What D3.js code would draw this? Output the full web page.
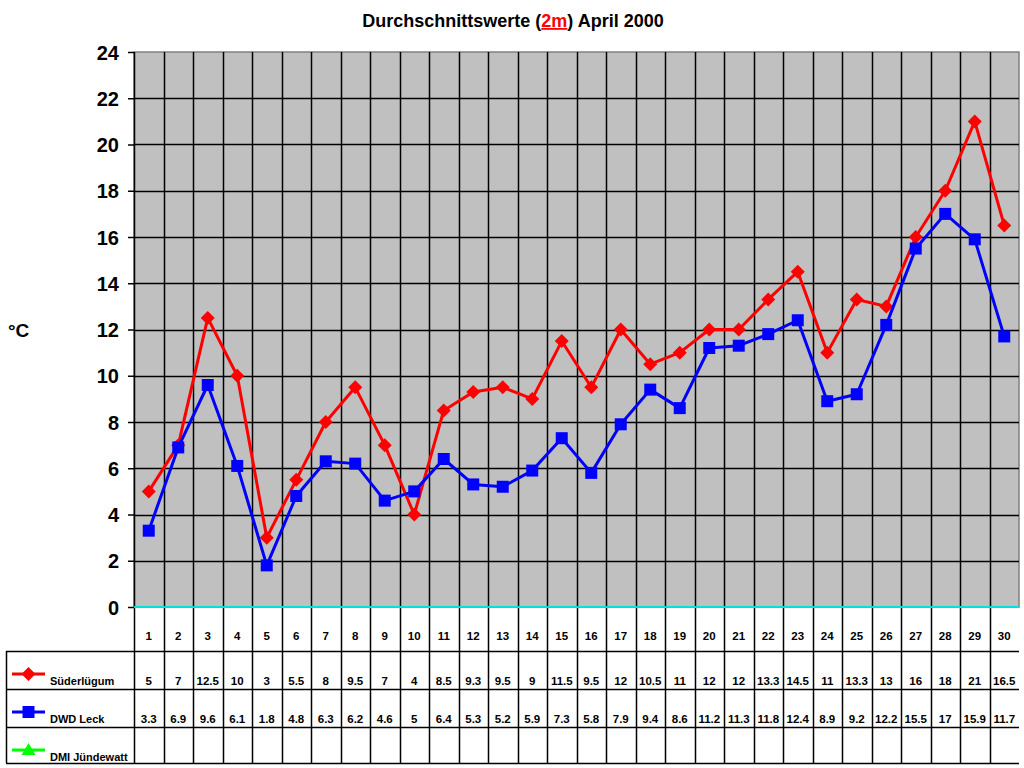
<!DOCTYPE html>
<html>
<head>
<meta charset="utf-8">
<script src="https://cdn.jsdelivr.net/npm/d3@7"></script>
<style>
  body { margin: 0; background: #fff; }
  text { font-family: "Liberation Sans", Arial, sans-serif; font-weight: bold; }
</style>
</head>
<body>
<svg id="chart" width="1024" height="768"></svg>
<script>
// Data
const days = d3.range(1, 31).map(String);
const suederluegum = [5, 7, 12.5, 10, 3, 5.5, 8, 9.5, 7, 4, 8.5, 9.3, 9.5, 9, 11.5, 9.5, 12, 10.5, 11, 12, 12, 13.3, 14.5, 11, 13.3, 13, 16, 18, 21, 16.5];
const dwdLeck = [3.3, 6.9, 9.6, 6.1, 1.8, 4.8, 6.3, 6.2, 4.6, 5, 6.4, 5.3, 5.2, 5.9, 7.3, 5.8, 7.9, 9.4, 8.6, 11.2, 11.3, 11.8, 12.4, 8.9, 9.2, 12.2, 15.5, 17, 15.9, 11.7];
const dmiJuendewatt = [];
const yTicks = [0, 2, 4, 6, 8, 10, 12, 14, 16, 18, 20, 22, 24];

const seriesNames = ['Süderlügum', 'DWD Leck', 'DMI Jündewatt'];
const seriesColors = ['#ff0000', '#0000ff', '#00ff00'];
const seriesData = [suederluegum, dwdLeck, dmiJuendewatt];

// Layout
const plot = { left: 134, right: 1019, top: 52, bottom: 607 };
const tableLeft = 6;
const rowLines = [651, 689, 727, 763];

const svg = d3.select('#chart');

const xScale = d3.scaleBand().domain(days).range([plot.left, plot.right]).padding(0);
const yScale = d3.scaleLinear().domain([0, 24]).range([plot.bottom, plot.top]);

// title
const title = svg.append('text')
  .attr('x', 513)
  .attr('y', 27)
  .attr('text-anchor', 'middle')
  .attr('font-size', 18);
title.append('tspan').text('Durchschnittswerte (');
title.append('tspan').attr('fill', '#ff0000').attr('text-decoration', 'underline').text('2m');
title.append('tspan').text(') April 2000');

// plot background
svg.append('rect')
  .attr('x', plot.left)
  .attr('y', plot.top)
  .attr('width', plot.right - plot.left)
  .attr('height', plot.bottom - plot.top)
  .attr('fill', '#c0c0c0')
  .attr('stroke', '#808080')
  .attr('stroke-width', 1.5);

// horizontal grid
svg.append('g')
  .selectAll('line')
  .data(yTicks.filter(t => t > 0 && t < 24))
  .enter()
  .append('line')
  .attr('x1', plot.left)
  .attr('x2', plot.right)
  .attr('y1', d => Math.round(yScale(d)) + 0.5)
  .attr('y2', d => Math.round(yScale(d)) + 0.5)
  .attr('stroke', '#000')
  .attr('stroke-width', 1.5);

// vertical grid (category boundaries), extended down through the table
svg.append('g')
  .selectAll('line')
  .data(days.slice(1))
  .enter()
  .append('line')
  .attr('x1', d => Math.round(xScale(d)) + 0.5)
  .attr('x2', d => Math.round(xScale(d)) + 0.5)
  .attr('y1', plot.top)
  .attr('y2', rowLines[3])
  .attr('stroke', '#000')
  .attr('stroke-width', 1.5);

// y axis
const yAxis = d3.axisLeft(yScale).tickValues(yTicks).tickSize(6).tickPadding(9);
const yAxisG = svg.append('g')
  .attr('transform', `translate(${plot.left},0)`)
  .call(yAxis);
yAxisG.select('.domain').remove();
yAxisG.selectAll('.tick line').attr('stroke', '#000').attr('stroke-width', 1.5);
yAxisG.selectAll('.tick text')
  .attr('font-size', 20)
  .attr('font-family', '"Liberation Sans", Arial, sans-serif')
  .attr('font-weight', 'bold')
  .attr('fill', '#000')
  .attr('dy', '0.36em');

svg.append('line')
  .attr('x1', plot.left + 0.5)
  .attr('x2', plot.left + 0.5)
  .attr('y1', plot.top)
  .attr('y2', rowLines[3])
  .attr('stroke', '#000')
  .attr('stroke-width', 1.5);

svg.append('text')
  .attr('x', 8)
  .attr('y', 337)
  .attr('font-size', 19)
  .text('°C');

// table
svg.append('g')
  .selectAll('line')
  .data(rowLines)
  .enter()
  .append('line')
  .attr('x1', tableLeft)
  .attr('x2', plot.right)
  .attr('y1', d => d + 0.5)
  .attr('y2', d => d + 0.5)
  .attr('stroke', '#000')
  .attr('stroke-width', 1.5);

svg.append('line')
  .attr('x1', tableLeft + 0.5)
  .attr('x2', tableLeft + 0.5)
  .attr('y1', rowLines[0])
  .attr('y2', rowLines[3])
  .attr('stroke', '#000')
  .attr('stroke-width', 1.5);

// zero line (cyan)
svg.append('line')
  .attr('x1', plot.left)
  .attr('x2', plot.right)
  .attr('y1', yScale(0))
  .attr('y2', yScale(0))
  .attr('stroke', '#00e0e0')
  .attr('stroke-width', 2);

// day numbers
svg.append('g')
  .selectAll('text')
  .data(days)
  .enter()
  .append('text')
  .attr('x', d => xScale(d) + xScale.bandwidth() / 2)
  .attr('y', 640)
  .attr('text-anchor', 'middle')
  .attr('font-size', 11.5)
  .text(d => d);

function drawMarker(g, i, x, y, color) {
  if (i === 0) {
    g.append('path')
      .attr('d', `M${x},${y - 7}L${x + 7},${y}L${x},${y + 7}L${x - 7},${y}Z`)
      .attr('fill', color);
  } else if (i === 1) {
    g.append('rect')
      .attr('x', x - 6)
      .attr('y', y - 6)
      .attr('width', 12)
      .attr('height', 12)
      .attr('fill', color);
  } else {
    g.append('path')
      .attr('d', `M${x},${y - 7}L${x + 7},${y + 5}L${x - 7},${y + 5}Z`)
      .attr('fill', color);
  }
}

// table rows: legend + values
seriesNames.forEach((name, i) => {
  const top = rowLines[i];
  const legendY = top + 23;
  const g = svg.append('g');
  g.append('line')
    .attr('x1', 12)
    .attr('x2', 45)
    .attr('y1', legendY)
    .attr('y2', legendY)
    .attr('stroke', seriesColors[i])
    .attr('stroke-width', 3);
  drawMarker(g, i, 28.5, legendY, seriesColors[i]);
  g.append('text')
    .attr('x', 50)
    .attr('y', top + 34)
    .attr('font-size', 11)
    .text(name);

  g.selectAll('text.val')
    .data(seriesData[i])
    .enter()
    .append('text')
    .attr('class', 'val')
    .attr('x', (d, j) => xScale(days[j]) + xScale.bandwidth() / 2)
    .attr('y', top + 34)
    .attr('text-anchor', 'middle')
    .attr('font-size', 11.5)
    .text(d => d);
});

// series lines and markers
const line = d3.line()
  .x((d, j) => xScale(days[j]) + xScale.bandwidth() / 2)
  .y(d => yScale(d));

seriesData.forEach((values, i) => {
  if (!values.length) return;
  const g = svg.append('g');
  g.append('path')
    .datum(values)
    .attr('d', line)
    .attr('fill', 'none')
    .attr('stroke', seriesColors[i])
    .attr('stroke-width', 3)
    .attr('stroke-linejoin', 'round');
  values.forEach((v, j) => {
    drawMarker(g, i, xScale(days[j]) + xScale.bandwidth() / 2, yScale(v), seriesColors[i]);
  });
});
</script>
</body>
</html>
